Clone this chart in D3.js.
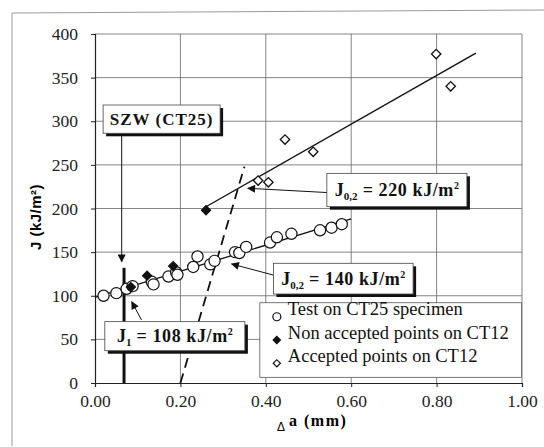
<!DOCTYPE html>
<html>
<head>
<meta charset="utf-8">
<script src="https://cdn.jsdelivr.net/npm/d3@7"></script>
<style>
  body { margin: 0; background: #fff; }
  svg { display: block; }
</style>
</head>
<body>
<div id="chart"></div>
<script>
// Data (delta a in mm, J in kJ/m2)
const ct25Points = [
  [0.02, 100], [0.05, 103], [0.074, 108], [0.088, 111], [0.133, 116], [0.137, 113],
  [0.172, 122], [0.19, 127], [0.193, 124], [0.23, 133], [0.24, 145], [0.27, 136],
  [0.28, 140], [0.328, 150], [0.338, 149], [0.354, 156], [0.41, 161], [0.426, 167],
  [0.46, 171], [0.527, 175], [0.554, 178], [0.578, 182]
];
const nonAcceptedPoints = [[0.084, 110], [0.122, 123], [0.183, 134], [0.26, 198]];
const acceptedPoints = [[0.382, 232], [0.406, 230], [0.445, 279], [0.511, 265], [0.799, 377], [0.833, 340]];

const ct25Fit = [[0, 98], [0.6, 188]];
const ct12Fit = [[0.26, 202], [0.892, 378]];
const offsetLine = [[0.2, 0], [0.35, 248]];
const jiLine = [[0.068, 0], [0.068, 132]];

const xTicks = [0, 0.2, 0.4, 0.6, 0.8, 1.0];
const yTicks = [0, 50, 100, 150, 200, 250, 300, 350, 400];

const legendLabels = ["Test on CT25 specimen", "Non accepted points on CT12", "Accepted points on CT12"];

// annotation boxes in data units
const boxes = [
  { x0: 0.019, x1: 0.293, y0: 318.6, y1: 286.2, main: "SZW (CT25)" },
  { x0: 0.543, x1: 0.871, y0: 240.3, y1: 202.1, main: "J", sub: "0,2", rest: " = 220 kJ/m" },
  { x0: 0.418, x1: 0.745, y0: 137.2, y1: 102.0, main: "J", sub: "0,2", rest: " = 140 kJ/m" },
  { x0: 0.023, x1: 0.351, y0: 70.3, y1: 37.0, main: "J", sub: "1", rest: " = 108 kJ/m" }
];
// arrows: from -> to (head at "to")
const arrows = [
  [[0.550, 218.1], [0.358, 223.2]],
  [[0.417, 123.8], [0.320, 136.4]],
  [[0.109, 72.2], [0.086, 93.2]],
  [[0.0625, 286], [0.0625, 139]]
];

const W = 544, H = 447;
const svg = d3.select("#chart").append("svg")
  .attr("width", W).attr("height", H);

svg.append("rect").attr("width", W).attr("height", H).attr("fill", "#fff");

// outer frame
svg.append("path")
  .attr("d", "M12,446 L12,13 L544,10")
  .attr("fill", "none").attr("stroke", "#999").attr("stroke-width", 1);

const x = d3.scaleLinear().domain([0, 1]).range([95, 522]);
const y = d3.scaleLinear().domain([0, 400]).range([383, 34]);

const serif = "'Liberation Serif', 'Times New Roman', serif";

// grid
svg.append("g").selectAll("line")
  .data(yTicks.filter(d => d > 0))
  .join("line")
  .attr("x1", x(0)).attr("x2", x(1))
  .attr("y1", d => y(d)).attr("y2", d => y(d))
  .attr("stroke", "#666").attr("stroke-width", 0.8);

svg.append("g").selectAll("line")
  .data(xTicks.filter(d => d > 0))
  .join("line")
  .attr("x1", d => x(d)).attr("x2", d => x(d))
  .attr("y1", y(0)).attr("y2", y(400))
  .attr("stroke", "#666").attr("stroke-width", 0.8);

// axes
const yAxis = svg.append("g")
  .attr("transform", `translate(${x(0)},0)`)
  .call(d3.axisLeft(y).tickValues(yTicks).tickSize(4).tickPadding(13).tickFormat(d3.format("d")));
const xAxis = svg.append("g")
  .attr("transform", `translate(0,${y(0)})`)
  .call(d3.axisBottom(x).tickValues(xTicks).tickSize(4).tickPadding(8).tickFormat(d3.format(".2f")));

[xAxis, yAxis].forEach(g => {
  g.select(".domain").attr("stroke", "#222").attr("stroke-width", 1.2);
  g.selectAll(".tick line").attr("stroke", "#222");
  g.selectAll(".tick text").attr("font-family", serif).attr("font-size", 17.5).attr("fill", "#222");
});

// axis titles
svg.append("text")
  .attr("transform", `translate(41,217) rotate(-90)`)
  .attr("text-anchor", "middle")
  .attr("font-family", "'Liberation Sans', Arial, sans-serif")
  .attr("font-weight", "bold").attr("font-size", 15)
  .attr("letter-spacing", 0.5)
  .text("J (kJ/m²)");

svg.append("text")
  .attr("x", 277).attr("y", 431)
  .attr("font-family", "'Liberation Sans', Arial, sans-serif")
  .attr("font-size", 12)
  .text("Δ");
svg.append("text")
  .attr("x", 289).attr("y", 426)
  .attr("font-family", serif)
  .attr("font-weight", "bold").attr("font-size", 16)
  .attr("letter-spacing", 1.5)
  .text("a (mm)");

// lines
const line = d3.line().x(d => x(d[0])).y(d => y(d[1]));

svg.append("path").datum(ct25Fit).attr("d", line)
  .attr("fill", "none").attr("stroke", "#111").attr("stroke-width", 1.3);
svg.append("path").datum(ct12Fit).attr("d", line)
  .attr("fill", "none").attr("stroke", "#111").attr("stroke-width", 1.4);
svg.append("path").datum(offsetLine).attr("d", line)
  .attr("fill", "none").attr("stroke", "#111").attr("stroke-width", 1.8)
  .attr("stroke-dasharray", "10,6");
svg.append("path").datum(jiLine).attr("d", line)
  .attr("fill", "none").attr("stroke", "#111").attr("stroke-width", 3);

// arrow marker
svg.append("defs").append("marker")
  .attr("id", "head")
  .attr("viewBox", "0 0 10 10")
  .attr("refX", 9).attr("refY", 5)
  .attr("markerWidth", 10).attr("markerHeight", 8)
  .attr("markerUnits", "userSpaceOnUse")
  .attr("orient", "auto")
  .append("path").attr("d", "M0,0 L10,5 L0,10 Z").attr("fill", "#111");

svg.append("g").selectAll("path")
  .data(arrows)
  .join("path")
  .attr("d", line)
  .attr("fill", "none").attr("stroke", "#111").attr("stroke-width", 1)
  .attr("marker-end", "url(#head)");

// points
const diamond = d3.symbol().type(d3.symbolSquare).size(44);

svg.append("g").selectAll("circle")
  .data(ct25Points)
  .join("circle")
  .attr("cx", d => x(d[0])).attr("cy", d => y(d[1])).attr("r", 5.6)
  .attr("fill", "#fff").attr("stroke", "#111").attr("stroke-width", 1.2);

svg.append("g").selectAll("path")
  .data(nonAcceptedPoints)
  .join("path")
  .attr("d", diamond)
  .attr("transform", d => `translate(${x(d[0])},${y(d[1])}) rotate(45)`)
  .attr("fill", "#111").attr("stroke", "#111");

svg.append("g").selectAll("path")
  .data(acceptedPoints)
  .join("path")
  .attr("d", diamond)
  .attr("transform", d => `translate(${x(d[0])},${y(d[1])}) rotate(45)`)
  .attr("fill", "#fff").attr("stroke", "#111").attr("stroke-width", 1.3);

// annotation boxes
boxes.forEach(b => {
  const bx = x(b.x0), by = y(b.y0), bw = x(b.x1) - x(b.x0), bh = y(b.y1) - y(b.y0);
  svg.append("rect").attr("x", bx + 3).attr("y", by + 3).attr("width", bw).attr("height", bh)
    .attr("fill", "#111");
  svg.append("rect").attr("x", bx).attr("y", by).attr("width", bw).attr("height", bh)
    .attr("fill", "#fff").attr("stroke", "#444").attr("stroke-width", 0.8);
  const t = svg.append("text")
    .attr("x", bx + bw / 2).attr("y", by + bh / 2 + 6)
    .attr("text-anchor", "middle")
    .attr("font-family", serif).attr("font-weight", "bold").attr("font-size", 18)
    .attr("fill", "#111");
  if (b.sub) {
    t.append("tspan").text(b.main);
    t.append("tspan").attr("font-size", 11).attr("dy", 4).text(b.sub);
    t.append("tspan").attr("dy", -4).attr("letter-spacing", 0.6).text(b.rest);
    t.append("tspan").attr("font-size", 10).attr("dy", -7).text("2");
  } else {
    t.attr("letter-spacing", 1).attr("font-size", 17).text(b.main);
  }
});

// legend
const lg = { x0: 0.386, x1: 0.999, y0: 92.0, y1: 6.5 };
svg.append("rect")
  .attr("x", x(lg.x0)).attr("y", y(lg.y0))
  .attr("width", x(lg.x1) - x(lg.x0)).attr("height", y(lg.y1) - y(lg.y0))
  .attr("fill", "#fff").attr("stroke", "#555").attr("stroke-width", 0.8);

const legend = svg.append("g").attr("transform", `translate(${x(lg.x0)},${y(lg.y0)})`);
legendLabels.forEach((label, i) => {
  const cy = 14 + i * 23.3;
  if (i === 0) {
    legend.append("circle").attr("cx", 17).attr("cy", cy).attr("r", 4)
      .attr("fill", "#fff").attr("stroke", "#111").attr("stroke-width", 1.2);
  } else {
    legend.append("path").attr("d", d3.symbol().type(d3.symbolSquare).size(26))
      .attr("transform", `translate(17,${cy}) rotate(45)`)
      .attr("fill", i === 1 ? "#111" : "#fff").attr("stroke", "#111").attr("stroke-width", 1.2);
  }
  legend.append("text")
    .attr("x", 28).attr("y", cy - 1.5)
    .attr("font-family", serif).attr("font-size", 18.5).attr("fill", "#111")
    .text(label);
});
</script>
</body>
</html>
